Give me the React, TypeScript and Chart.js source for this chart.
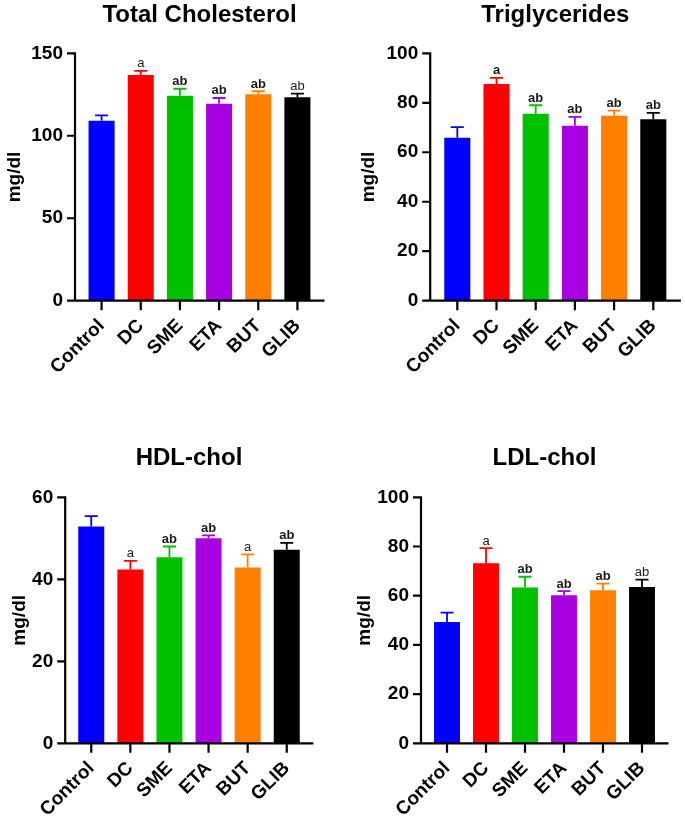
import React, { useEffect, useRef } from "react";
import { Chart, registerables } from "chart.js";

Chart.register(...registerables);

const categories = ["Control", "DC", "SME", "ETA", "BUT", "GLIB"];
const barColors = ["#0000FF", "#FF0000", "#00C000", "#A800E0", "#FF8000", "#000000"];

const tcTitle = "Total Cholesterol";
const tcMeans = [109.1, 136.8, 124.3, 119.4, 125.1, 123.3];
const tcErrors = [3.3, 2.5, 4.2, 3.5, 1.9, 2.2];
const tcLetters = ["", "a", "ab", "ab", "ab", "ab"];
const tcBold = [false, false, true, true, true, false];
const tcTicks = [0, 50, 100, 150];

const tgTitle = "Triglycerides";
const tgMeans = [65.9, 87.6, 75.6, 70.7, 74.8, 73.3];
const tgErrors = [4.3, 2.5, 3.4, 3.6, 2.0, 2.6];
const tgLetters = ["", "a", "ab", "ab", "ab", "ab"];
const tgBold = [true, true, true, true, true, true];
const tgTicks = [0, 20, 40, 60, 80, 100];

const hdlTitle = "HDL-chol";
const hdlMeans = [52.9, 42.4, 45.4, 50.0, 42.9, 47.2];
const hdlErrors = [2.5, 2.1, 2.6, 0.7, 3.2, 1.7];
const hdlLetters = ["", "a", "ab", "ab", "a", "ab"];
const hdlBold = [false, false, true, true, false, true];
const hdlTicks = [0, 20, 40, 60];

const ldlTitle = "LDL-chol";
const ldlMeans = [49.3, 73.2, 63.3, 60.2, 62.2, 63.5];
const ldlErrors = [3.8, 6.1, 4.4, 1.7, 2.7, 3.0];
const ldlLetters = ["", "a", "ab", "ab", "ab", "ab"];
const ldlBold = [false, false, true, true, true, false];
const ldlTicks = [0, 20, 40, 60, 80, 100];

const yAxisLabel = "mg/dl";

const panels = [
  { title: tcTitle, means: tcMeans, errors: tcErrors, letters: tcLetters, bold: tcBold, ticks: tcTicks },
  { title: tgTitle, means: tgMeans, errors: tgErrors, letters: tgLetters, bold: tgBold, ticks: tgTicks },
  { title: hdlTitle, means: hdlMeans, errors: hdlErrors, letters: hdlLetters, bold: hdlBold, ticks: hdlTicks },
  { title: ldlTitle, means: ldlMeans, errors: ldlErrors, letters: ldlLetters, bold: ldlBold, ticks: ldlTicks },
];

// layout (canvas-local pixel geometry)
const layouts = [
  { left: 0, top: 0, w: 342, h: 410, aL: 82, aR: 317, aT: 53.3, aB: 300.7, titleBase: 21.7, ylabelX: 15, gap: 7 },
  { left: 342, top: 0, w: 343, h: 410, aL: 95.7, aR: 330.9, aT: 53.3, aB: 300.7, titleBase: 21.7, ylabelX: 26.3, gap: 7.5 },
  { left: 0, top: 410, w: 342, h: 413, aL: 71.7, aR: 306.3, aT: 87.3, aB: 333.3, titleBase: 55, ylabelX: 20, gap: 6.5 },
  { left: 342, top: 410, w: 343, h: 413, aL: 85.5, aR: 319.5, aT: 87.3, aB: 333.3, titleBase: 55, ylabelX: 23, gap: 6.5 },
];

const FONT = '"Liberation Sans", Arial, Helvetica, sans-serif';

const decorPlugin = {
  id: "decor",
  afterDatasetsDraw(chart: any, _args: any, opts: any) {
    const { ctx, chartArea } = chart;
    const xs = chart.scales.x;
    const ys = chart.scales.y;
    const p = opts.panel;
    const lay = opts.layout;
    ctx.save();
    // error bars and letters
    p.means.forEach((m: number, i: number) => {
      const cx = xs.getPixelForValue(i);
      const top = ys.getPixelForValue(m);
      const et = ys.getPixelForValue(m + p.errors[i]);
      ctx.strokeStyle = barColors[i];
      ctx.lineWidth = 1.8;
      ctx.beginPath();
      ctx.moveTo(cx, top);
      ctx.lineTo(cx, et);
      ctx.moveTo(cx - 6.5, et);
      ctx.lineTo(cx + 6.5, et);
      ctx.stroke();
      if (p.letters[i]) {
        ctx.fillStyle = "#1a1a1a";
        ctx.font = `${p.bold[i] ? "bold " : ""}13px ${FONT}`;
        ctx.textAlign = "center";
        ctx.textBaseline = "alphabetic";
        ctx.fillText(p.letters[i], cx, et - 3.5);
      }
    });
    // axes
    const ax = chartArea.left - lay.gap;
    const bottom = ys.getPixelForValue(0);
    const ymaxPx = ys.getPixelForValue(p.ticks[p.ticks.length - 1]);
    ctx.strokeStyle = "#000";
    ctx.lineWidth = 2.2;
    ctx.beginPath();
    ctx.moveTo(ax, ymaxPx - 1);
    ctx.lineTo(ax, bottom);
    ctx.moveTo(ax - 1.1, bottom);
    ctx.lineTo(chartArea.right + lay.gap + 0.5, bottom);
    p.ticks.forEach((t: number) => {
      const ty = ys.getPixelForValue(t);
      ctx.moveTo(ax - 8, ty);
      ctx.lineTo(ax, ty);
    });
    categories.forEach((_c, i) => {
      const cx = xs.getPixelForValue(i);
      ctx.moveTo(cx, bottom);
      ctx.lineTo(cx, bottom + 9.5);
    });
    ctx.stroke();
    // title
    ctx.fillStyle = "#000";
    ctx.font = `bold 24px ${FONT}`;
    ctx.textAlign = "center";
    ctx.textBaseline = "alphabetic";
    ctx.fillText(p.title, (chartArea.left + chartArea.right) / 2, lay.titleBase);
    // y axis title
    ctx.translate(lay.ylabelX, (ymaxPx + bottom) / 2);
    ctx.rotate(-Math.PI / 2);
    ctx.font = `bold 19px ${FONT}`;
    ctx.textBaseline = "middle";
    ctx.fillText(yAxisLabel, 0, 0);
    ctx.restore();
  },
};

function Panel({ idx }: { idx: number }) {
  const ref = useRef<HTMLCanvasElement | null>(null);
  const p = panels[idx];
  const lay = layouts[idx];
  useEffect(() => {
    if (!ref.current) return;
    const maxV = p.ticks[p.ticks.length - 1];
    const step = p.ticks[1] - p.ticks[0];
    const chart = new Chart(ref.current, {
      type: "bar",
      data: {
        labels: categories,
        datasets: [
          {
            data: p.means,
            backgroundColor: barColors,
            borderWidth: 0,
            barPercentage: 0.665,
            categoryPercentage: 1,
          },
        ],
      },
      plugins: [decorPlugin],
      options: {
        responsive: false,
        animation: false,
        events: [],
        layout: {
          padding: { left: 0, top: lay.aT, right: lay.w - lay.aR, bottom: 0 },
        },
        plugins: {
          legend: { display: false },
          tooltip: { enabled: false },
          title: { display: false },
          decor: { panel: p, layout: lay },
        } as any,
        scales: {
          x: {
            type: "category",
            offset: true,
            grid: { display: false, drawTicks: false, tickLength: 0 },
            border: { display: false },
            ticks: {
              autoSkip: false,
              minRotation: 45,
              maxRotation: 45,
              padding: 14,
              color: "#000",
              font: { family: FONT, size: 19, weight: "bold" },
            },
            afterFit: (s: any) => {
              s.height = lay.h - lay.aB;
            },
          },
          y: {
            min: 0,
            max: maxV,
            grid: { display: false, drawTicks: false, tickLength: 0 },
            border: { display: false },
            ticks: {
              stepSize: step,
              padding: lay.gap + 12,
              color: "#000",
              font: { family: FONT, size: 19, weight: "bold" },
            },
            afterFit: (s: any) => {
              s.width = lay.aL;
            },
          },
        },
      } as any,
    });
    return () => chart.destroy();
  }, []);
  return (
    <canvas
      ref={ref}
      width={lay.w}
      height={lay.h}
      style={{ position: "absolute", left: lay.left, top: lay.top, width: lay.w, height: lay.h, display: "block" }}
    />
  );
}

export default function App() {
  return (
    <div style={{ position: "absolute", left: 0, top: 0, width: 685, height: 823, background: "#fff" }}>
      {panels.map((_p, i) => (
        <Panel key={i} idx={i} />
      ))}
    </div>
  );
}
